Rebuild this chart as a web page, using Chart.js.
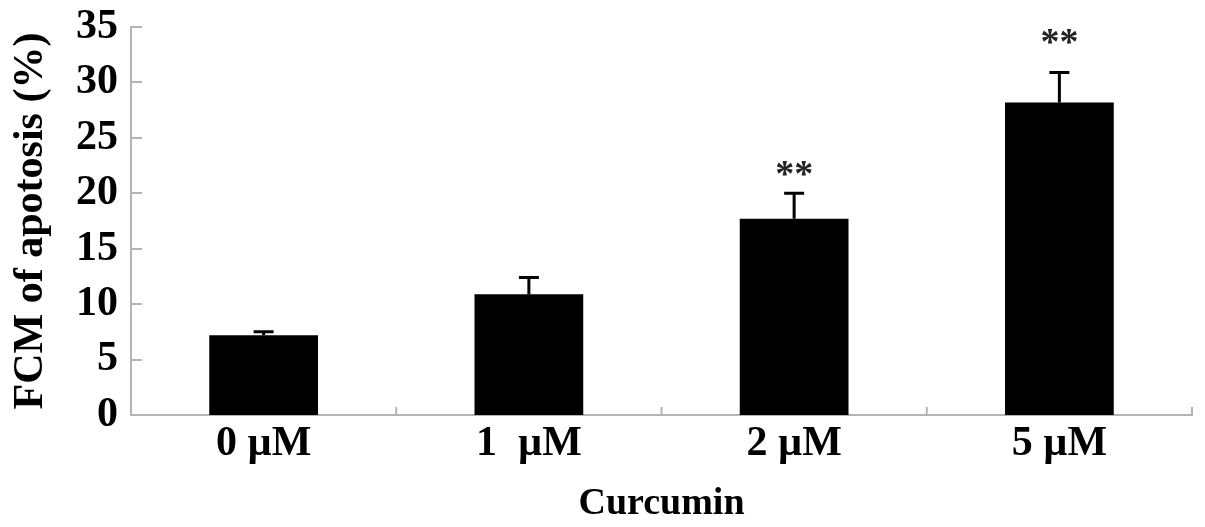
<!DOCTYPE html>
<html>
<head>
<meta charset="utf-8">
<script src="https://cdn.jsdelivr.net/npm/chart.js@4"></script>
<style>
html,body{margin:0;padding:0;background:#fff;}
#wrap{width:1205px;height:527px;position:relative;}
</style>
</head>
<body>
<div id="wrap"><canvas id="c" width="1205" height="527"></canvas></div>
<script>
const categories = ['0 \u00b5M', '1  \u00b5M', '2 \u00b5M', '5 \u00b5M'];
const apoptosis = [7.2, 10.9, 17.7, 28.2];
const errors = [0.3, 1.5, 2.3, 2.7];
const significance = ['', '', '**', '**'];
const significanceAt = [null, null, 21.9, 33.8];
const yTicks = [0, 5, 10, 15, 20, 25, 30, 35];
const yTitle = 'FCM of apotosis (%)';
const xTitle = 'Curcumin';

const FONT = "'Liberation Serif', 'Times New Roman', serif";
const AXIS_COLOR = '#b4b4b4';

const extras = {
  id: 'extras',
  afterDatasetsDraw(chart) {
    const ctx = chart.ctx;
    const x = chart.scales.x, y = chart.scales.y;
    const meta = chart.getDatasetMeta(0);
    ctx.save();
    ctx.strokeStyle = '#000';
    ctx.lineWidth = 3;
    meta.data.forEach((bar, i) => {
      const cx = bar.x;
      const yTop = y.getPixelForValue(apoptosis[i] + errors[i]);
      const yBar = y.getPixelForValue(apoptosis[i]);
      ctx.beginPath();
      ctx.moveTo(cx, yBar);
      ctx.lineTo(cx, yTop);
      ctx.moveTo(cx - 10, yTop);
      ctx.lineTo(cx + 10, yTop);
      ctx.stroke();
      if (significance[i]) {
        ctx.fillStyle = '#222';
        ctx.font = 'bold 38px ' + FONT;
        ctx.textAlign = 'center';
        ctx.textBaseline = 'alphabetic';
        ctx.fillText(significance[i], cx, y.getPixelForValue(significanceAt[i]) + 14);
      }
    });
    ctx.strokeStyle = AXIS_COLOR;
    ctx.lineWidth = 2;
    const left = chart.chartArea.left, bottom = chart.chartArea.bottom;
    yTicks.forEach(v => {
      const py = Math.round(y.getPixelForValue(v));
      ctx.beginPath();
      ctx.moveTo(left, py);
      ctx.lineTo(left + 11, py);
      ctx.stroke();
    });
    for (let i = 0; i <= categories.length; i++) {
      const px = x.getPixelForValue(i - 0.5);
      ctx.beginPath();
      ctx.moveTo(px, bottom);
      ctx.lineTo(px, bottom - 8);
      ctx.stroke();
    }
    ctx.restore();
  }
};

new Chart(document.getElementById('c'), {
  type: 'bar',
  data: {
    labels: categories,
    datasets: [{
      data: apoptosis,
      backgroundColor: '#000',
      borderWidth: 0,
      barPercentage: 1,
      categoryPercentage: 0.41
    }]
  },
  options: {
    responsive: false,
    animation: false,
    events: [],
    layout: { padding: { top: 27, right: 13, left: 0, bottom: 0 } },
    plugins: { legend: { display: false }, tooltip: { enabled: false } },
    scales: {
      x: {
        grid: { display: false, drawTicks: false },
        border: { display: true, color: AXIS_COLOR, width: 2 },
        ticks: { color: '#000', font: { family: FONT, size: 42, weight: 'bold' }, padding: 4, maxRotation: 0 },
        title: { display: true, text: xTitle, color: '#000', font: { family: FONT, size: 38, weight: 'bold' }, padding: { top: 12, bottom: 0 } },
        afterFit(s) { s.height = 112; s.paddingLeft = 0; s.paddingRight = 0; }
      },
      y: {
        min: 0, max: 35,
        afterBuildTicks(s) { s.ticks = yTicks.map(v => ({ value: v })); },
        grid: { display: false, drawTicks: false },
        border: { display: true, color: AXIS_COLOR, width: 2 },
        ticks: { color: '#000', font: { family: FONT, size: 42, weight: 'bold' }, padding: 13 },
        title: { display: true, text: yTitle, color: '#000', font: { family: FONT, size: 42, weight: 'bold' }, padding: { top: 6, bottom: 0 } },
        afterFit(s) { s.width = 131; s.paddingTop = 0; s.paddingBottom = 0; }
      }
    }
  },
  plugins: [extras]
});
</script>
</body>
</html>
